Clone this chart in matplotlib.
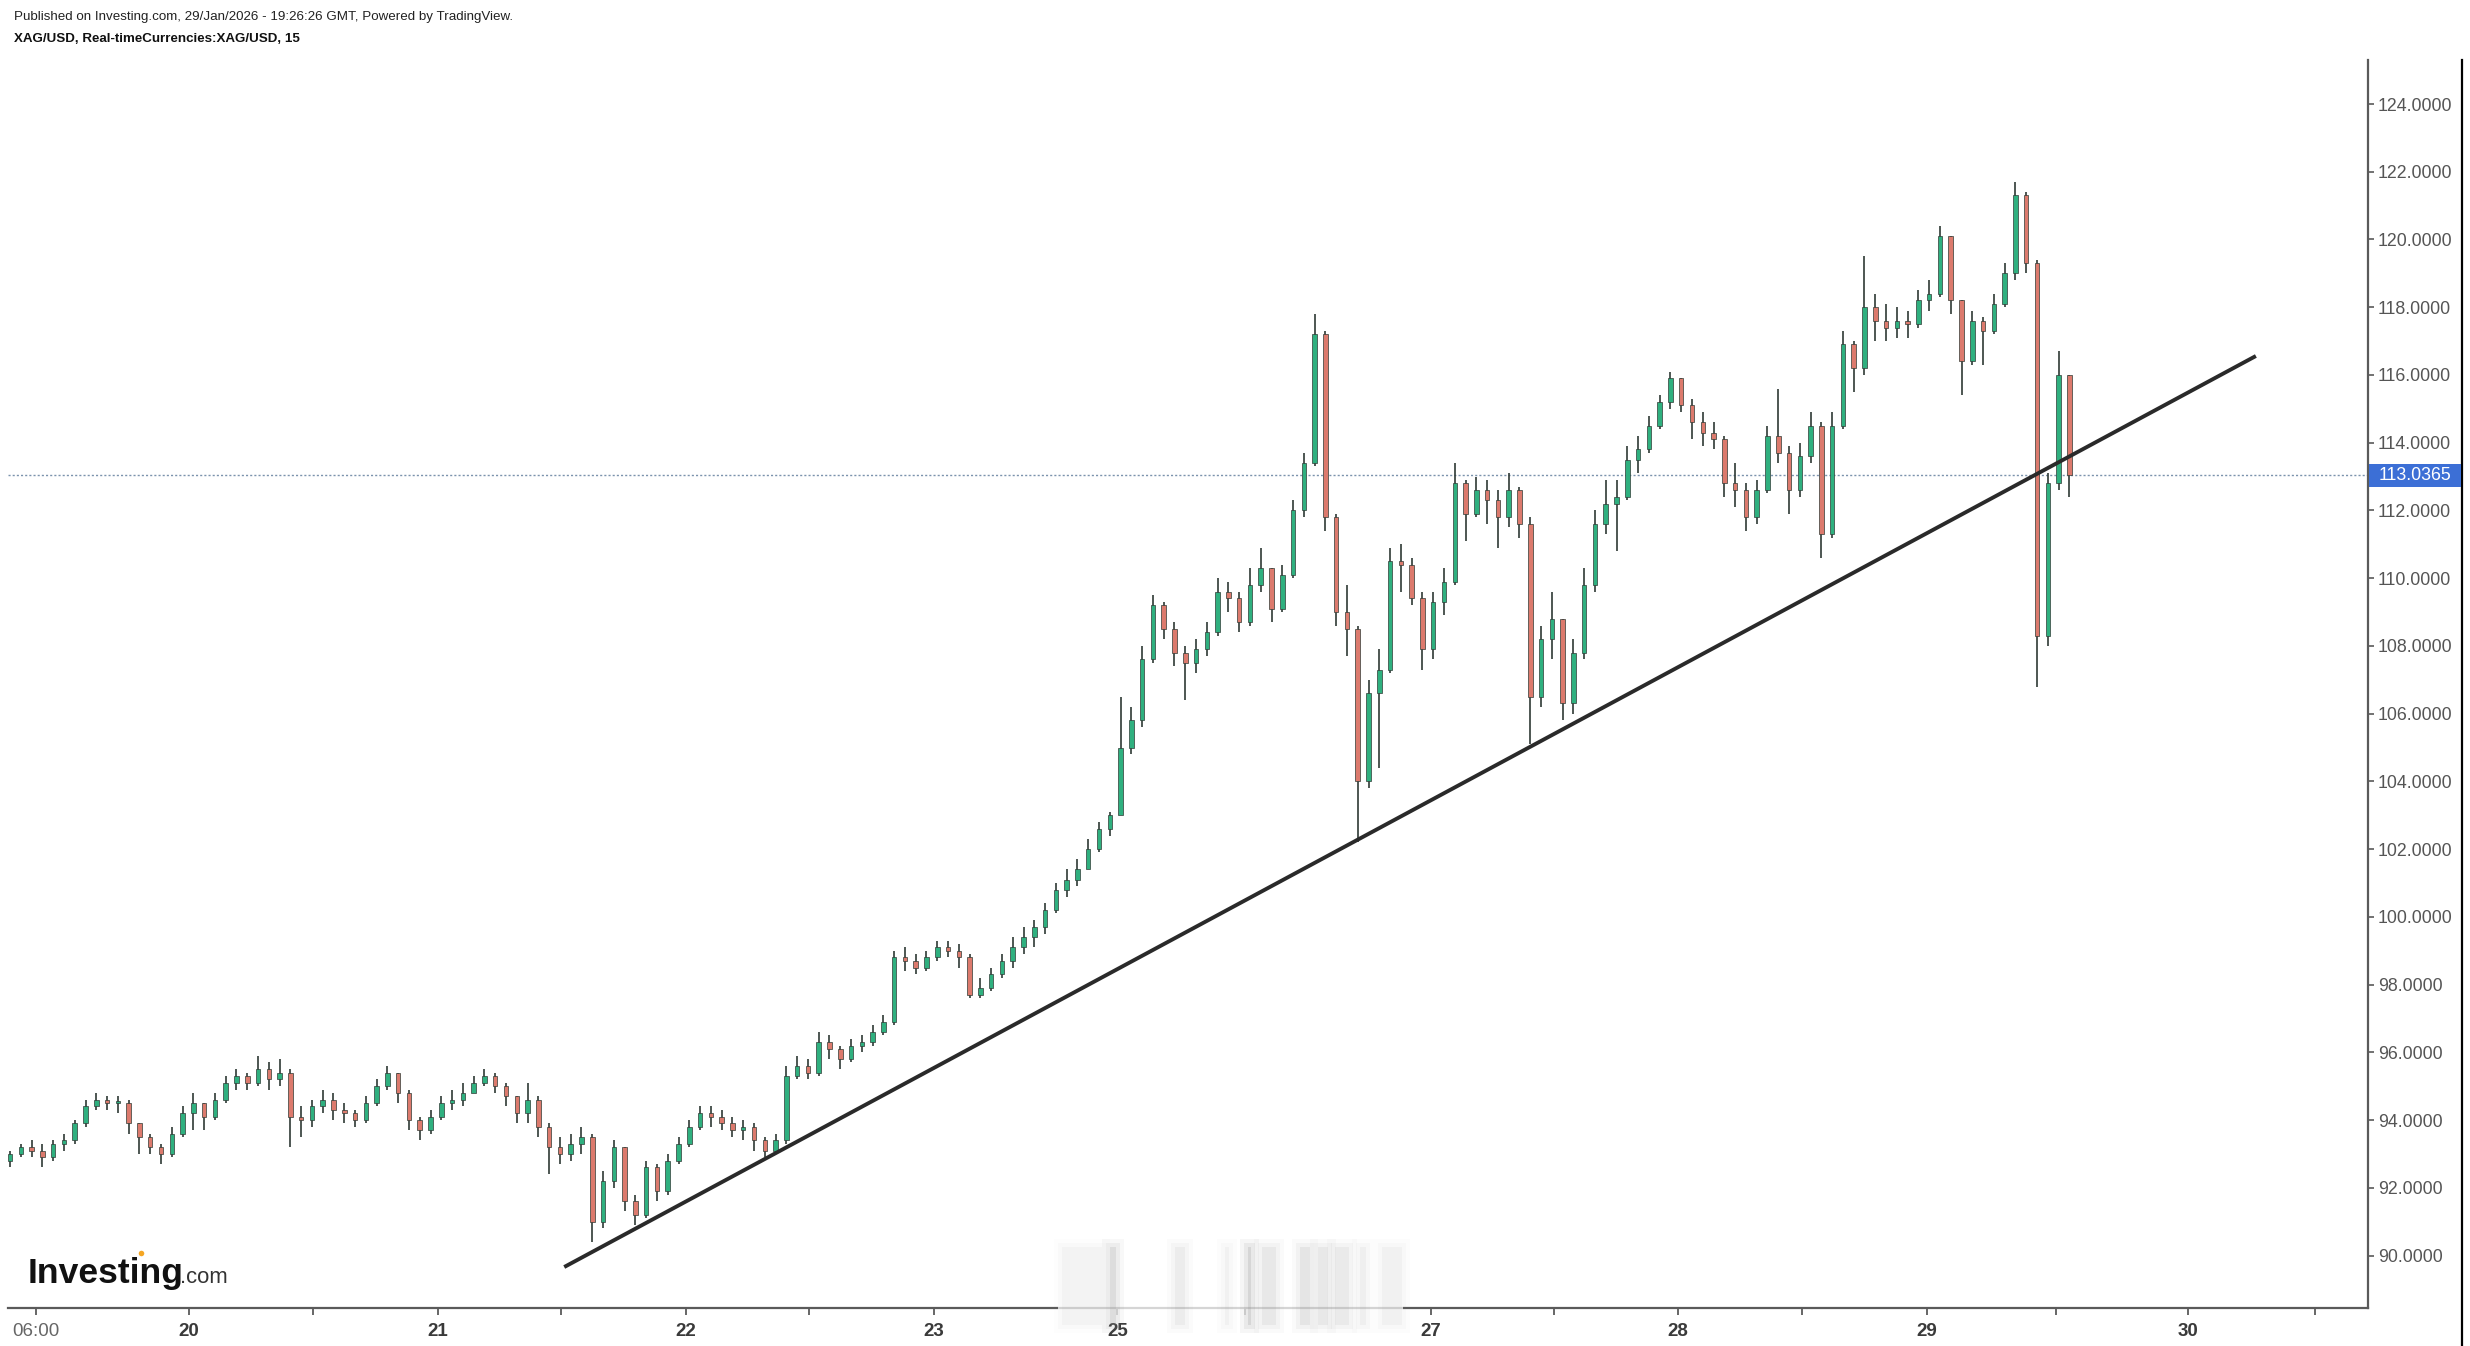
import numpy as np
import matplotlib
matplotlib.use("Agg")
import matplotlib.pyplot as plt
from matplotlib.lines import Line2D
from matplotlib.patches import Rectangle

# ---------------- data (hourly candles, XAG/USD) ----------------
first_open = 92.8
closes = [
    93.0, 93.2, 93.1, 92.9, 93.3, 93.4, 93.9, 94.4, 94.6, 94.5,
    94.5, 93.9, 93.5, 93.2, 93.0, 93.6, 94.2, 94.5, 94.1, 94.6,
    95.1, 95.3, 95.1, 95.5, 95.2, 95.4, 94.1, 94.0, 94.4, 94.6,
    94.3, 94.2, 94.0, 94.5, 95.0, 95.4, 94.8, 94.0, 93.7, 94.1,
    94.5, 94.6, 94.8, 95.1, 95.3, 95.0, 94.7, 94.2, 94.6, 93.8,
    93.2, 93.0, 93.3, 93.5, 91.0, 92.2, 93.2, 91.6, 91.2, 92.6,
    91.9, 92.8, 93.3, 93.8, 94.2, 94.1, 93.9, 93.7, 93.8, 93.4,
    93.1, 93.4, 95.3, 95.6, 95.4, 96.3, 96.1, 95.8, 96.2, 96.3,
    96.6, 96.9, 98.8, 98.7, 98.5, 98.8, 99.1, 99.0, 98.8, 97.7,
    97.9, 98.3, 98.7, 99.1, 99.4, 99.7, 100.2, 100.8, 101.1, 101.4,
    102.0, 102.6, 103.0, 105.0, 105.8, 107.6, 109.2, 108.5, 107.8, 107.5,
    107.9, 108.4, 109.6, 109.4, 108.7, 109.8, 110.3, 109.1, 110.1, 112.0,
    113.4, 117.2, 111.8, 109.0, 108.5, 104.0, 106.6, 107.3, 110.5, 110.4,
    109.4, 107.9, 109.3, 109.9, 112.8, 111.9, 112.6, 112.3, 111.8, 112.6,
    111.6, 106.5, 108.2, 108.8, 106.3, 107.8, 109.8, 111.6, 112.2, 112.4,
    113.5, 113.8, 114.5, 115.2, 115.9, 115.1, 114.6, 114.3, 114.1, 112.8,
    112.6, 111.8, 112.6, 114.2, 113.7, 112.6, 113.6, 114.5, 111.3, 114.5,
    116.9, 116.2, 118.0, 117.6, 117.4, 117.6, 117.5, 118.2, 118.4, 120.1,
    118.2, 116.4, 117.6, 117.3, 118.1, 119.0, 121.3, 119.3, 108.3, 112.8,
    116.0, 113.0365,
]
highs = [
    93.1, 93.3, 93.4, 93.3, 93.4, 93.6, 94.0, 94.6, 94.8, 94.7,
    94.7, 94.6, 93.9, 93.6, 93.3, 93.8, 94.4, 94.8, 94.5, 94.8,
    95.3, 95.5, 95.4, 95.9, 95.7, 95.8, 95.5, 94.4, 94.6, 94.9,
    94.8, 94.5, 94.3, 94.7, 95.2, 95.6, 95.4, 94.9, 94.1, 94.3,
    94.7, 94.9, 95.1, 95.3, 95.5, 95.4, 95.1, 94.7, 95.1, 94.7,
    93.9, 93.5, 93.6, 93.8, 93.6, 92.5, 93.4, 93.2, 91.8, 92.8,
    92.7, 93.0, 93.5, 94.0, 94.4, 94.4, 94.3, 94.1, 94.0, 93.9,
    93.5, 93.6, 95.6, 95.9, 95.8, 96.6, 96.5, 96.2, 96.4, 96.5,
    96.8, 97.1, 99.0, 99.1, 98.9, 99.0, 99.3, 99.3, 99.2, 98.9,
    98.2, 98.5, 98.9, 99.4, 99.7, 99.9, 100.4, 101.0, 101.4, 101.7,
    102.3, 102.8, 103.1, 106.5, 106.2, 108.0, 109.5, 109.3, 108.7, 108.0,
    108.2, 108.7, 110.0, 109.9, 109.6, 110.3, 110.9, 110.3, 110.4, 112.3,
    113.7, 117.8, 117.3, 111.9, 109.8, 108.6, 107.0, 107.9, 110.9, 111.0,
    110.6, 109.6, 109.6, 110.3, 113.4, 112.9, 113.0, 112.9, 112.6, 113.1,
    112.7, 111.8, 108.6, 109.6, 108.3, 108.2, 110.3, 112.0, 112.9, 112.9,
    113.9, 114.2, 114.8, 115.4, 116.1, 115.9, 115.3, 114.9, 114.6, 114.2,
    113.4, 112.8, 112.9, 114.5, 115.6, 113.9, 114.0, 114.9, 114.6, 114.9,
    117.3, 117.0, 119.5, 118.4, 118.1, 118.0, 117.9, 118.5, 118.8, 120.4,
    120.0, 118.1, 117.9, 117.7, 118.4, 119.3, 121.7, 121.4, 119.4, 113.1,
    116.7, 116.0,
]
lows = [
    92.6, 92.9, 92.9, 92.6, 92.8, 93.1, 93.3, 93.8, 94.3, 94.3,
    94.2, 93.6, 93.0, 93.0, 92.7, 92.9, 93.5, 93.7, 93.7, 94.0,
    94.5, 94.9, 94.9, 95.0, 94.9, 95.0, 93.2, 93.5, 93.8, 94.2,
    94.0, 93.9, 93.8, 93.9, 94.4, 94.9, 94.5, 93.7, 93.4, 93.6,
    94.0, 94.3, 94.4, 94.8, 95.0, 94.8, 94.4, 93.9, 93.9, 93.5,
    92.4, 92.7, 92.8, 93.0, 90.4, 90.8, 92.0, 91.3, 90.9, 91.1,
    91.6, 91.8, 92.7, 93.2, 93.7, 93.8, 93.7, 93.5, 93.4, 93.1,
    92.9, 93.0, 93.3, 95.2, 95.2, 95.3, 95.8, 95.5, 95.7, 96.0,
    96.2, 96.5, 96.8, 98.4, 98.3, 98.4, 98.7, 98.8, 98.5, 97.6,
    97.6, 97.8, 98.2, 98.5, 98.9, 99.1, 99.5, 100.1, 100.6, 100.9,
    101.4, 101.9, 102.4, 103.0, 104.8, 105.6, 107.5, 108.2, 107.4, 106.4,
    107.2, 107.7, 108.3, 109.0, 108.4, 108.6, 109.6, 108.7, 109.0, 110.0,
    111.8, 113.3, 111.4, 108.6, 107.7, 102.2, 103.8, 104.4, 107.2, 109.6,
    109.2, 107.3, 107.6, 108.9, 109.8, 111.1, 111.8, 111.6, 110.9, 111.5,
    111.2, 105.1, 106.2, 107.6, 105.8, 106.0, 107.6, 109.6, 111.3, 110.8,
    112.3, 113.1, 113.7, 114.4, 115.0, 114.9, 114.1, 113.9, 113.8, 112.4,
    112.1, 111.4, 111.6, 112.5, 113.4, 111.9, 112.4, 113.4, 110.6, 111.2,
    114.4, 115.5, 116.0, 117.0, 117.0, 117.1, 117.1, 117.4, 117.9, 118.3,
    117.8, 115.4, 116.3, 116.3, 117.2, 118.0, 118.8, 119.0, 106.8, 108.0,
    112.6, 112.4,
]
last_price = 113.0365

# time axis (hour-bar index)
tick_pos = [2.4, 16.6, 39.7, 62.7, 85.7, 102.7, 131.8, 154.7, 177.8, 202.0]
tick_labels = ["06:00", "20", "21", "22", "23", "25", "27", "28", "29", "30"]
minor_pos = [28.1, 51.1, 74.1, 114.5, 143.2, 166.2, 189.8, 213.8]
y_ticks = [90, 92, 94, 96, 98, 100, 102, 104, 106, 108, 110, 112, 114, 116,
           118, 120, 122, 124]

# trend line drawn on the chart
trend_x = [51.4, 208.3]
trend_y = [89.66, 116.56]

# ---------------- figure ----------------
W, H = 2470, 1346
fig = plt.figure(figsize=(W / 100, H / 100), dpi=100)
fig.patch.set_facecolor("white")
ax = fig.add_axes([8 / W, 1 - 1308 / H, 2360 / W, 1248 / H])
ax.set_facecolor("white")

SANS = ["Liberation Sans", "DejaVu Sans"]

closes_a = np.array(closes)
opens_a = np.concatenate([[first_open], closes_a[:-1]])
highs_a = np.maximum(np.array(highs), np.maximum(opens_a, closes_a))
lows_a = np.minimum(np.array(lows), np.minimum(opens_a, closes_a))
xs = np.arange(len(closes_a))
up = closes_a >= opens_a

UP_COL = "#2fb07f"
DN_COL = "#dc7a6d"
WICK = "#2f3a35"

ax.vlines(xs, lows_a, highs_a, color=WICK, linewidth=1.2, zorder=2)
body_bottom = np.minimum(opens_a, closes_a)
body_h = np.maximum(np.abs(closes_a - opens_a), 0.06)
ax.bar(xs[up], body_h[up], bottom=body_bottom[up], width=0.42,
       color=UP_COL, edgecolor=WICK, linewidth=0.5, zorder=3)
ax.bar(xs[~up], body_h[~up], bottom=body_bottom[~up], width=0.42,
       color=DN_COL, edgecolor=WICK, linewidth=0.5, zorder=3)

# trend line
ax.plot(trend_x, trend_y, color="#2a2a2a", linewidth=2.8,
        solid_capstyle="butt", zorder=4)

# last price dotted line
ax.axhline(last_price, color="#7b93ad", linewidth=1.0,
           linestyle=(0, (1.5, 1.5)), zorder=1)

ax.set_xlim(-0.19, 218.7)
ax.set_ylim(88.45, 125.3)

# axes styling
for s in ["left", "top"]:
    ax.spines[s].set_visible(False)
for s in ["right", "bottom"]:
    ax.spines[s].set_color("#5a5a5a")
    ax.spines[s].set_linewidth(1.6)

ax.yaxis.tick_right()
ax.set_yticks(y_ticks)
ax.set_yticklabels([f"{v:.4f}" for v in y_ticks])
ax.tick_params(axis="y", which="major", direction="out", length=4, width=1.2,
               color="#5a5a5a", labelcolor="#555555", labelsize=12.8, pad=3)
for lab in ax.get_yticklabels():
    lab.set_fontfamily(SANS)

ax.set_xticks(tick_pos)
ax.set_xticklabels(tick_labels)
ax.set_xticks(minor_pos, minor=True)
ax.tick_params(axis="x", which="both", direction="out", length=5, width=1.3,
               color="#5a5a5a", labelsize=13.5, pad=6)
for lab in ax.get_xticklabels():
    lab.set_fontfamily(SANS)
    if lab.get_text() == "06:00":
        lab.set_color("#666666")
        lab.set_fontweight("normal")
    else:
        lab.set_color("#3a3a3a")
        lab.set_fontweight("bold")

# last price label box on the price scale
y_fig = ax.transData.transform((0, last_price))[1]
fig.add_artist(Rectangle((2369 / W, (y_fig - 11.5) / H), 92 / W, 23 / H,
                         transform=fig.transFigure, facecolor="#3c6fd6",
                         edgecolor="none", zorder=5))
fig.text(2415 / W, y_fig / H, f"{last_price:.4f}", ha="center", va="center",
         color="white", fontsize=12.8, family=SANS, zorder=6)

# faint blurred watermark near the time scale
wm_x = [1062, 1110, 1175, 1225, 1248, 1262, 1300, 1318, 1335, 1360, 1382]
wm_w = [40, 6, 10, 4, 3, 14, 10, 10, 14, 6, 20]
wm_a = [0.05, 0.16, 0.08, 0.06, 0.2, 0.1, 0.12, 0.1, 0.09, 0.07, 0.06]
fig.add_artist(Rectangle((1058 / W, 1 - 1318 / H), 345 / W, 16 / H,
                         transform=fig.transFigure, facecolor="white",
                         alpha=0.75, edgecolor="none", zorder=7))
for xx, ww, aa in zip(wm_x, wm_w, wm_a):
    for grow, fac in [(8, 0.35), (4, 0.6), (0, 1.0)]:
        fig.add_artist(Rectangle(((xx - grow) / W, 1 - (1325 + grow) / H),
                                 (ww + 2 * grow) / W, (78 + 2 * grow) / H,
                                 transform=fig.transFigure,
                                 facecolor="#8c8c8c", alpha=aa * fac,
                                 edgecolor="none", zorder=8))

# right black border line
fig.add_artist(Line2D([2462 / W, 2462 / W], [0, 1 - 60 / H], color="black",
                      linewidth=1.6))

# header texts
renderer = fig.canvas.get_renderer()


def fit(t, target_w):
    bb = t.get_window_extent(renderer)
    t.set_fontsize(t.get_fontsize() * target_w / bb.width)


t1 = fig.text(14 / W, 1 - 17 / H,
              "Published on Investing.com, 29/Jan/2026 - 19:26:26 GMT, Powered by TradingView.",
              ha="left", va="center", fontsize=10, color="#222222",
              family=SANS)
fit(t1, 500)
t2 = fig.text(14 / W, 1 - 39 / H, "XAG/USD, Real-timeCurrencies:XAG/USD, 15",
              ha="left", va="center", fontsize=10, color="#111111",
              fontweight="bold", family=SANS)
fit(t2, 286)

# Investing.com logo
t3 = fig.text(28 / W, 1 - 1283 / H, "Investing", ha="left", va="baseline",
              fontsize=26, fontweight="bold", color="#111111", family=SANS)
fit(t3, 156)
t4 = fig.text(180 / W, 1 - 1283 / H, ".com", ha="left", va="baseline",
              fontsize=16, color="#333333", family=SANS)
fit(t4, 48)
fig.add_artist(Line2D([141 / W], [1 - 1253 / H], marker="o", markersize=4,
                      color="#f5a623", markeredgewidth=0))

fig.savefig("out.png", dpi=100, facecolor="white")
